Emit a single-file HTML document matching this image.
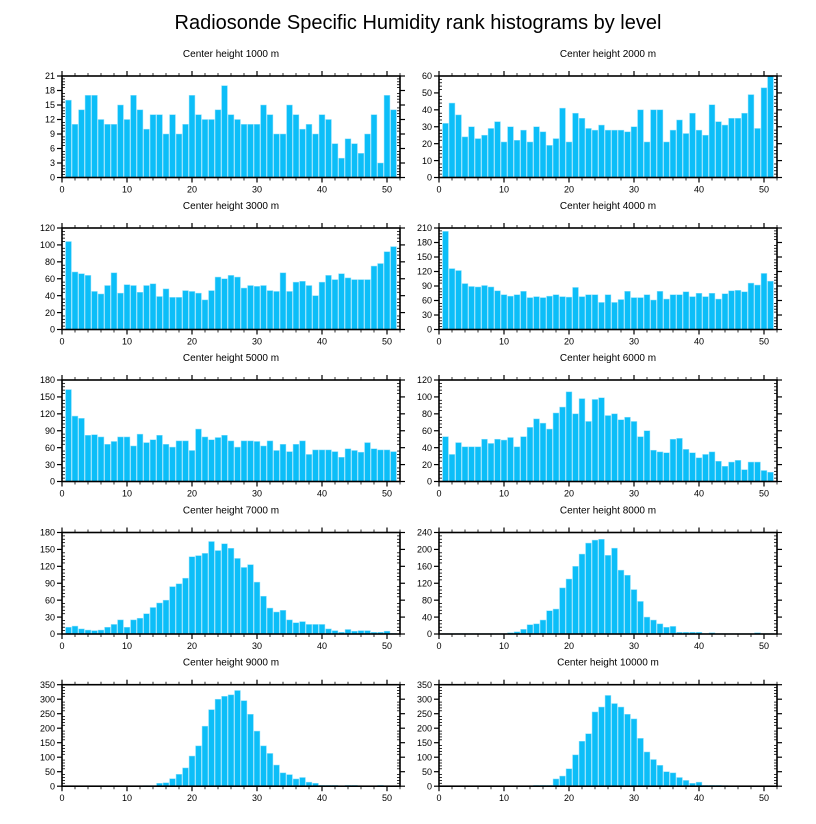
<!DOCTYPE html>
<html><head><meta charset="utf-8"><style>
html,body{margin:0;padding:0;background:#fff;}
svg{display:block;font-family:"Liberation Sans",sans-serif;}
</style></head><body>
<svg id="chart" width="816" height="824" viewBox="0 0 816 824" xmlns="http://www.w3.org/2000/svg">
<text x="418" y="29" text-anchor="middle" font-size="20">Radiosonde Specific Humidity rank histograms by level</text>
</svg>
<script>
const panelTitles = ["Center height 1000 m","Center height 2000 m","Center height 3000 m","Center height 4000 m","Center height 5000 m","Center height 6000 m","Center height 7000 m","Center height 8000 m","Center height 9000 m","Center height 10000 m"];
const yMax = [21,60,120,210,180,120,180,240,350,350];
const yStep = [3,10,20,30,30,20,30,40,50,50];
const xTicks = [0,10,20,30,40,50];
const h1000 = [16,11,14,17,17,12,11,11,15,12,17,14,10,13,13,9,13,9,11,17,13,12,12,14,19,13,12,11,11,11,15,13,9,9,15,13,10,11,9,13,12,7,4,8,7,5,9,13,3,17,14];
const h2000 = [32,44,37,24,30,23,25,29,33,21,30,22,28,21,30,27,19,23,41,21,38,35,29,28,31,28,28,28,27,30,40,21,40,40,21,28,34,26,38,28,25,43,33,31,35,35,38,49,29,53,60];
const h3000 = [104,68,66,64,45,42,52,67,43,53,52,44,52,54,39,48,38,38,46,45,43,35,46,62,60,64,62,49,52,51,52,46,45,67,45,56,57,52,40,56,64,59,66,61,59,59,59,75,78,92,98];
const h4000 = [203,126,122,95,89,88,91,88,80,72,69,72,79,66,68,66,69,72,68,67,87,68,72,72,56,72,56,62,79,66,66,72,61,79,63,72,72,78,68,75,68,75,63,74,80,81,78,96,92,116,100];
const h5000 = [163,116,112,82,83,79,66,71,79,79,63,84,69,74,82,66,61,72,72,55,93,79,74,78,82,72,61,72,72,71,63,72,55,66,53,66,72,48,56,56,56,53,43,58,55,52,69,58,56,56,53];
const h6000 = [53,32,46,41,41,41,50,45,50,49,52,41,53,64,74,69,62,81,88,106,80,98,71,97,99,78,80,73,76,71,53,60,37,35,34,50,51,38,34,28,32,35,24,18,23,25,14,23,23,13,11];
const h7000 = [12,14,9,7,6,7,12,17,25,12,25,28,36,47,55,60,84,89,99,137,139,143,164,148,160,152,134,118,123,92,67,46,39,42,25,20,22,17,17,17,9,6,3,8,5,6,6,3,3,5,1];
const h8000 = [1,1,1,1,1,1,1,1,1,1,3,5,11,22,24,33,55,59,109,130,160,189,215,222,224,186,203,151,139,105,77,40,33,24,16,18,4,4,4,4,1,3,1,1,1,1,1,1,3,1,1];
const h9000 = [0,0,0,0,0,0,0,0,0,0,0,0,2,2,10,12,26,41,63,104,139,207,264,300,310,315,330,295,248,190,139,113,73,46,40,25,30,14,10,3,3,3,1,3,3,1,1,1,3,1,1];
const h10000 = [0,0,0,0,0,0,0,0,0,0,0,0,1,1,3,3,3,25,35,60,108,155,181,256,273,313,285,273,248,232,165,118,92,72,50,46,30,20,10,14,3,3,3,2,1,1,1,1,1,1,1];
const allSeries = [h1000,h2000,h3000,h4000,h5000,h6000,h7000,h8000,h9000,h10000];

const NS = "http://www.w3.org/2000/svg";
const svg = document.getElementById("chart");
function mk(tag, attrs, parent){const e=document.createElementNS(NS,tag);for(const k in attrs)e.setAttribute(k,attrs[k]);(parent||svg).appendChild(e);return e;}

const colX = [[62,400],[439,777]];
const rowTop = [76,228,380,532.5,684.7];
const plotH = 101.5;
const X_MAX = 52;

allSeries.forEach((vals, p) => {
  const col = p % 2, row = Math.floor(p / 2);
  const x0 = colX[col][0], x1 = colX[col][1];
  const yT = rowTop[row], yB = yT + plotH;
  const xs = v => x0 + (v / X_MAX) * (x1 - x0);
  const ys = v => yB - (v / yMax[p]) * plotH;
  const g = mk("g", {});
  
  

  const t = mk("text", {x:(x0+x1)/2, y:yT-19, "text-anchor":"middle", "font-size":"10"}, g);
  t.textContent = panelTitles[p];
  
  

  vals.forEach((v, i) => {
    const c = i + 1;
    const r = mk("rect", {x: xs(c - 0.45), y: ys(v), width: xs(c + 0.45) - xs(c - 0.45), height: Math.max(0, yB - ys(v)), fill: "#0cbef8", stroke: "#8fe0fb", "stroke-width": "0.5"}, g);
    
    
  });

  const frame = mk("rect", {x:x0, y:yT, width:x1-x0, height:plotH, fill:"none", stroke:"#000", "stroke-width":"1.6"}, g);
  
  

  // x ticks
  for (let v = 0; v <= X_MAX; v += 2) {
    const major = v % 10 === 0;
    const x = xs(v);
    if (major) {
      mk("line", {x1:x, x2:x, y1:yB, y2:yB+5, stroke:"#000", "stroke-width":"1.2"}, g);
      mk("line", {x1:x, x2:x, y1:yT, y2:yT-5, stroke:"#000", "stroke-width":"1.2"}, g);
    } else {
      mk("line", {x1:x, x2:x, y1:yB, y2:yB+3, stroke:"#000", "stroke-width":"0.8"}, g);
      mk("line", {x1:x, x2:x, y1:yT, y2:yT-3, stroke:"#000", "stroke-width":"0.8"}, g);
    }
  }
  xTicks.forEach(v => {
    const tl = mk("text", {x: xs(v), y: yB + 15, "text-anchor":"middle", "font-size":"9"}, g);
    tl.textContent = v;
    
    
  });

  // y ticks
  const st = yStep[p], minor = st / 5;
  for (let k = 0; k * minor <= yMax[p] + 1e-9; k++) {
    const v = k * minor, y = ys(v);
    if (k % 5 === 0) {
      mk("line", {x1:x0-5, x2:x0, y1:y, y2:y, stroke:"#000", "stroke-width":"1.2"}, g);
      mk("line", {x1:x1, x2:x1+5, y1:y, y2:y, stroke:"#000", "stroke-width":"1.2"}, g);
      const yl = mk("text", {x: x0 - 7, y: y + 3.2, "text-anchor":"end", "font-size":"9"}, g);
      yl.textContent = Math.round(v);
      
      
    } else {
      mk("line", {x1:x0, x2:x0+3, y1:y, y2:y, stroke:"#000", "stroke-width":"0.8"}, g);
      mk("line", {x1:x1-3, x2:x1, y1:y, y2:y, stroke:"#000", "stroke-width":"0.8"}, g);
    }
  }
});
</script>
</body></html>
